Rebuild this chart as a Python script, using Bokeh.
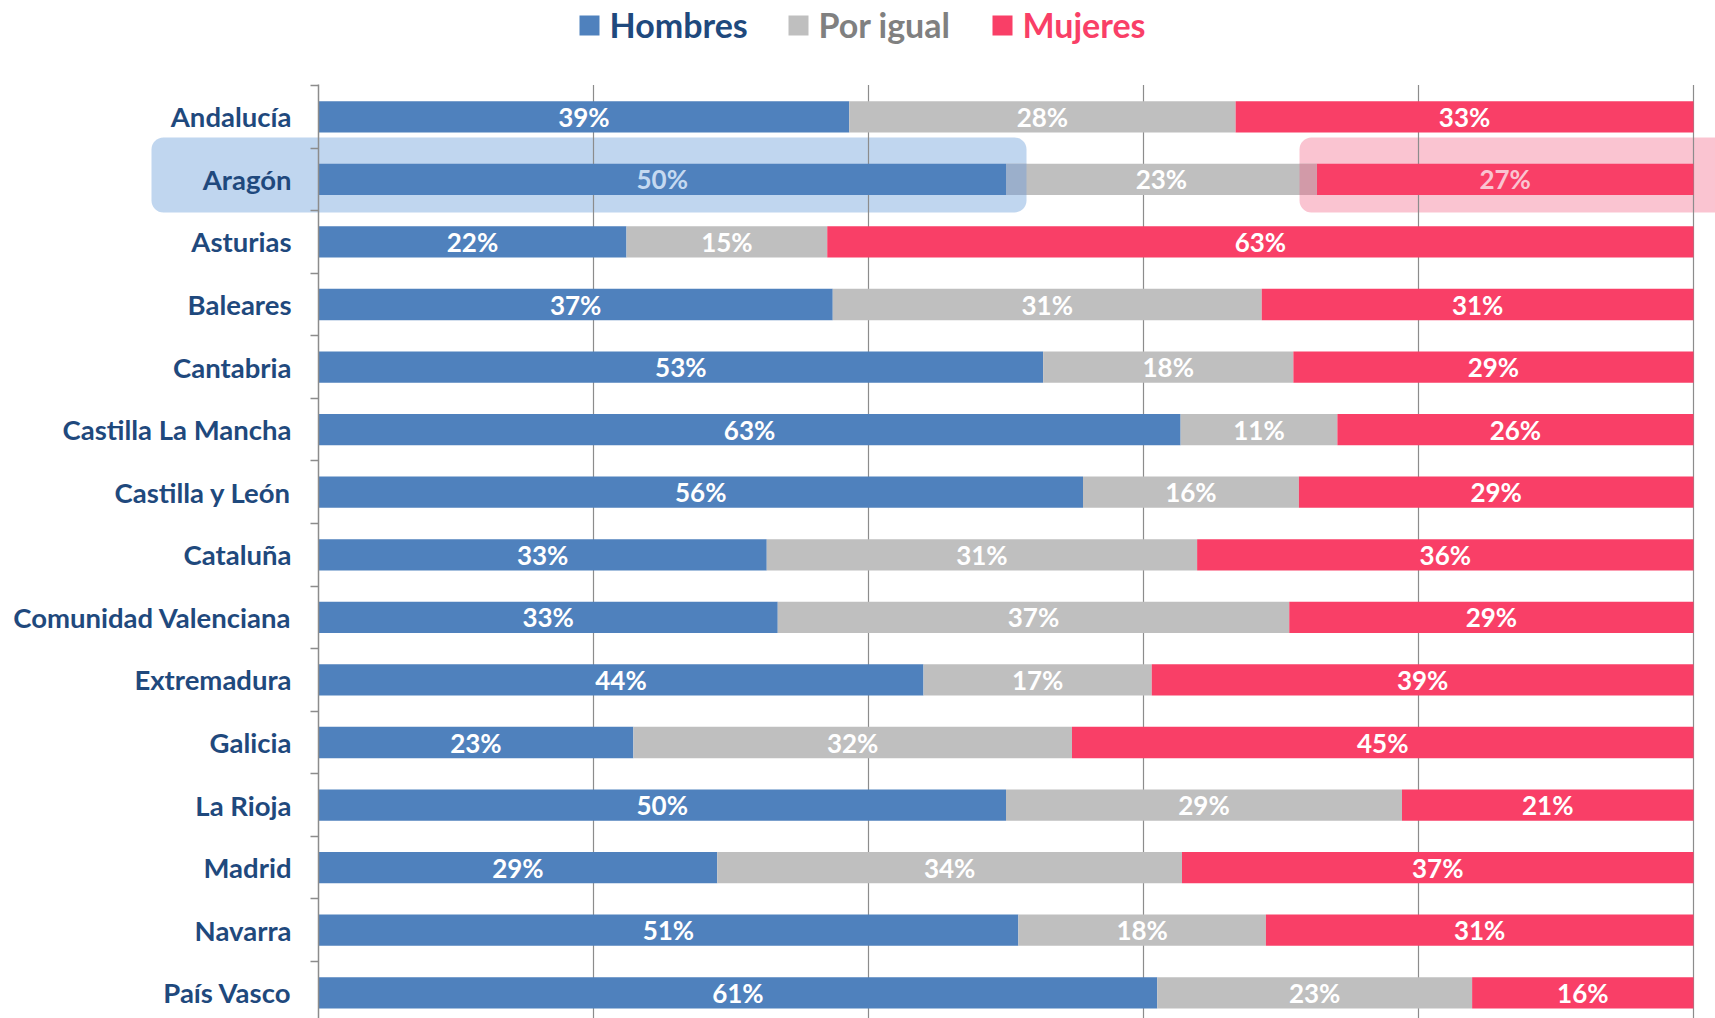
import numpy as np
from bokeh.plotting import figure
from bokeh.models import Range1d, FixedTicker, BoxAnnotation, Label, ColumnDataSource
from bokeh.embed import file_html
from bokeh.resources import INLINE
from bokeh.core.properties import value

regions = ["Andalucía", "Aragón", "Asturias", "Baleares", "Cantabria",
           "Castilla La Mancha", "Castilla y León", "Cataluña",
           "Comunidad Valenciana", "Extremadura", "Galicia", "La Rioja",
           "Madrid", "Navarra", "País Vasco"]
hombres = [38.6, 50.0, 22.4, 37.4, 52.7, 62.7, 55.6, 32.6, 33.4, 44.0, 22.9, 50.0, 29.0, 50.9, 61.0]
por_igual = [28.1, 22.6, 14.6, 31.2, 18.2, 11.4, 15.7, 31.3, 37.2, 16.6, 31.9, 28.8, 33.8, 18.0, 22.9]
mujeres = [33.3, 27.4, 63.0, 31.4, 29.1, 25.9, 28.7, 36.1, 29.4, 39.4, 45.2, 21.2, 37.2, 31.1, 16.1]
series_names = ["Hombres", "Por igual", "Mujeres"]
grid_ticks = [20, 40, 60, 80, 100]
highlight = "Aragón"

C_BLUE = "#4F81BD"
C_GRAY = "#BFBFBF"
C_PINK = "#F93F67"
C_TEXT = "#1F497D"
C_GRID = "#8C8C8C"
FONT = "Lato"

# canvas-pixel -> data helpers (layout only)
X0, XPX = 318.0, 13.75      # canvas x of 0 %, px per %
Y0, YPX = 116.3, 62.57      # canvas y of first row, px per row
def dx(px): return (px - X0) / XPX
def dy(py): return (py - Y0) / YPX

W, H = 1715, 1018
p = figure(width=W, height=H, output_backend="svg", toolbar_location=None,
           x_range=Range1d(dx(0), dx(W)),
           y_range=Range1d(dy(H), dy(0)),
           x_axis_location=None, min_border_left=0, min_border_right=0,
           min_border_top=0, min_border_bottom=0)
p.outline_line_color = None
p.xgrid.grid_line_color = None
p.ygrid.grid_line_color = None

n = len(regions)
idx = np.arange(n)
h = np.array(hombres); g = np.array(por_igual); m = np.array(mujeres)
lefts = [np.zeros(n), h, h + g]
rights = [h, h + g, h + g + m]
vals = [h, g, m]
colors = [C_BLUE, C_GRAY, C_PINK]
y_top = -0.5 - 0.01
y_bot = dy(H)

# y axis drawn at 0 %
yax = p.yaxis[0]
yax.fixed_location = 0
yax.bounds = (y_top, y_bot)
yax.ticker = FixedTicker(ticks=list(idx), minor_ticks=list(np.arange(-0.5, n, 1.0)))
yax.major_label_overrides = {int(i): r for i, r in enumerate(regions)}
yax.major_tick_out = 0
yax.major_tick_in = 0
yax.minor_tick_out = 8
yax.minor_tick_in = 0
yax.minor_tick_line_color = C_GRID
yax.minor_tick_line_width = 1.5
yax.axis_line_color = C_GRID
yax.axis_line_width = 1.5
yax.major_label_standoff = 19
yax.major_label_text_font = FONT
yax.major_label_text_font_style = "bold"
yax.major_label_text_font_size = "27.5px"
yax.major_label_text_color = C_TEXT

# vertical grid lines
p.segment(x0=grid_ticks, x1=grid_ticks, y0=[y_top] * len(grid_ticks), y1=[y_bot] * len(grid_ticks),
          line_color=C_GRID, line_width=1.2)

hi = regions.index(highlight)
# highlight boxes (semi transparent so grid shows through)
box_l_right = dx(1026)
box_r_left = dx(1299)
p.add_layout(BoxAnnotation(left=dx(151), right=box_l_right, top=dy(137), bottom=dy(212),
                           fill_color="#81ADDF", fill_alpha=0.5, line_color=None,
                           border_radius=12, level="underlay"))
p.add_layout(BoxAnnotation(left=box_r_left, right=dx(1760), top=dy(137), bottom=dy(212),
                           fill_color="#F47C99", fill_alpha=0.45, line_color=None,
                           border_radius=12, level="underlay"))

for k in range(3):
    p.hbar(y=idx, left=lefts[k], right=rights[k], height=0.5,
           fill_color=colors[k], line_color=None)

# overlap of highlight boxes over the grey segment
p.hbar(y=[hi], left=[rights[0][hi]], right=[box_l_right], height=0.5,
       fill_color="#9BAFCB", line_color=None)
p.hbar(y=[hi], left=[box_r_left], right=[rights[1][hi]], height=0.5,
       fill_color="#D29AA8", line_color=None)

# value labels
tx, ty, tt, tc = [], [], [], []
for k in range(3):
    for i in range(n):
        tx.append((lefts[k][i] + rights[k][i]) / 2)
        ty.append(i)
        tt.append(f"{vals[k][i]:.0f}%")
        c = "white"
        if i == hi and k == 0:
            c = "#C5D9F1"
        if i == hi and k == 2:
            c = "#FAC4D1"
        tc.append(c)
src = ColumnDataSource(dict(x=tx, y=ty, t=tt, c=tc))
p.text(x="x", y="y", text="t", text_color="c", source=src,
       text_align="center", text_baseline="middle",
       text_font=value(FONT), text_font_style="bold", text_font_size="26px")

# legend
leg = [(579, 609, C_BLUE, C_TEXT), (788, 818, C_GRAY, "#808080"), (992, 1022, C_PINK, C_PINK)]
for name, (sq, tx0, fc, tcol) in zip(series_names, leg):
    p.add_layout(BoxAnnotation(left=dx(sq), right=dx(sq + 20), top=dy(15), bottom=dy(35),
                               fill_color=fc, fill_alpha=1, line_color=None))
    p.add_layout(Label(x=dx(tx0), y=dy(24), text=name, text_font=FONT,
                       text_font_style="bold", text_font_size="34px",
                       text_color=tcol, text_baseline="middle"))

open("out.html", "w").write(file_html(p, INLINE))
